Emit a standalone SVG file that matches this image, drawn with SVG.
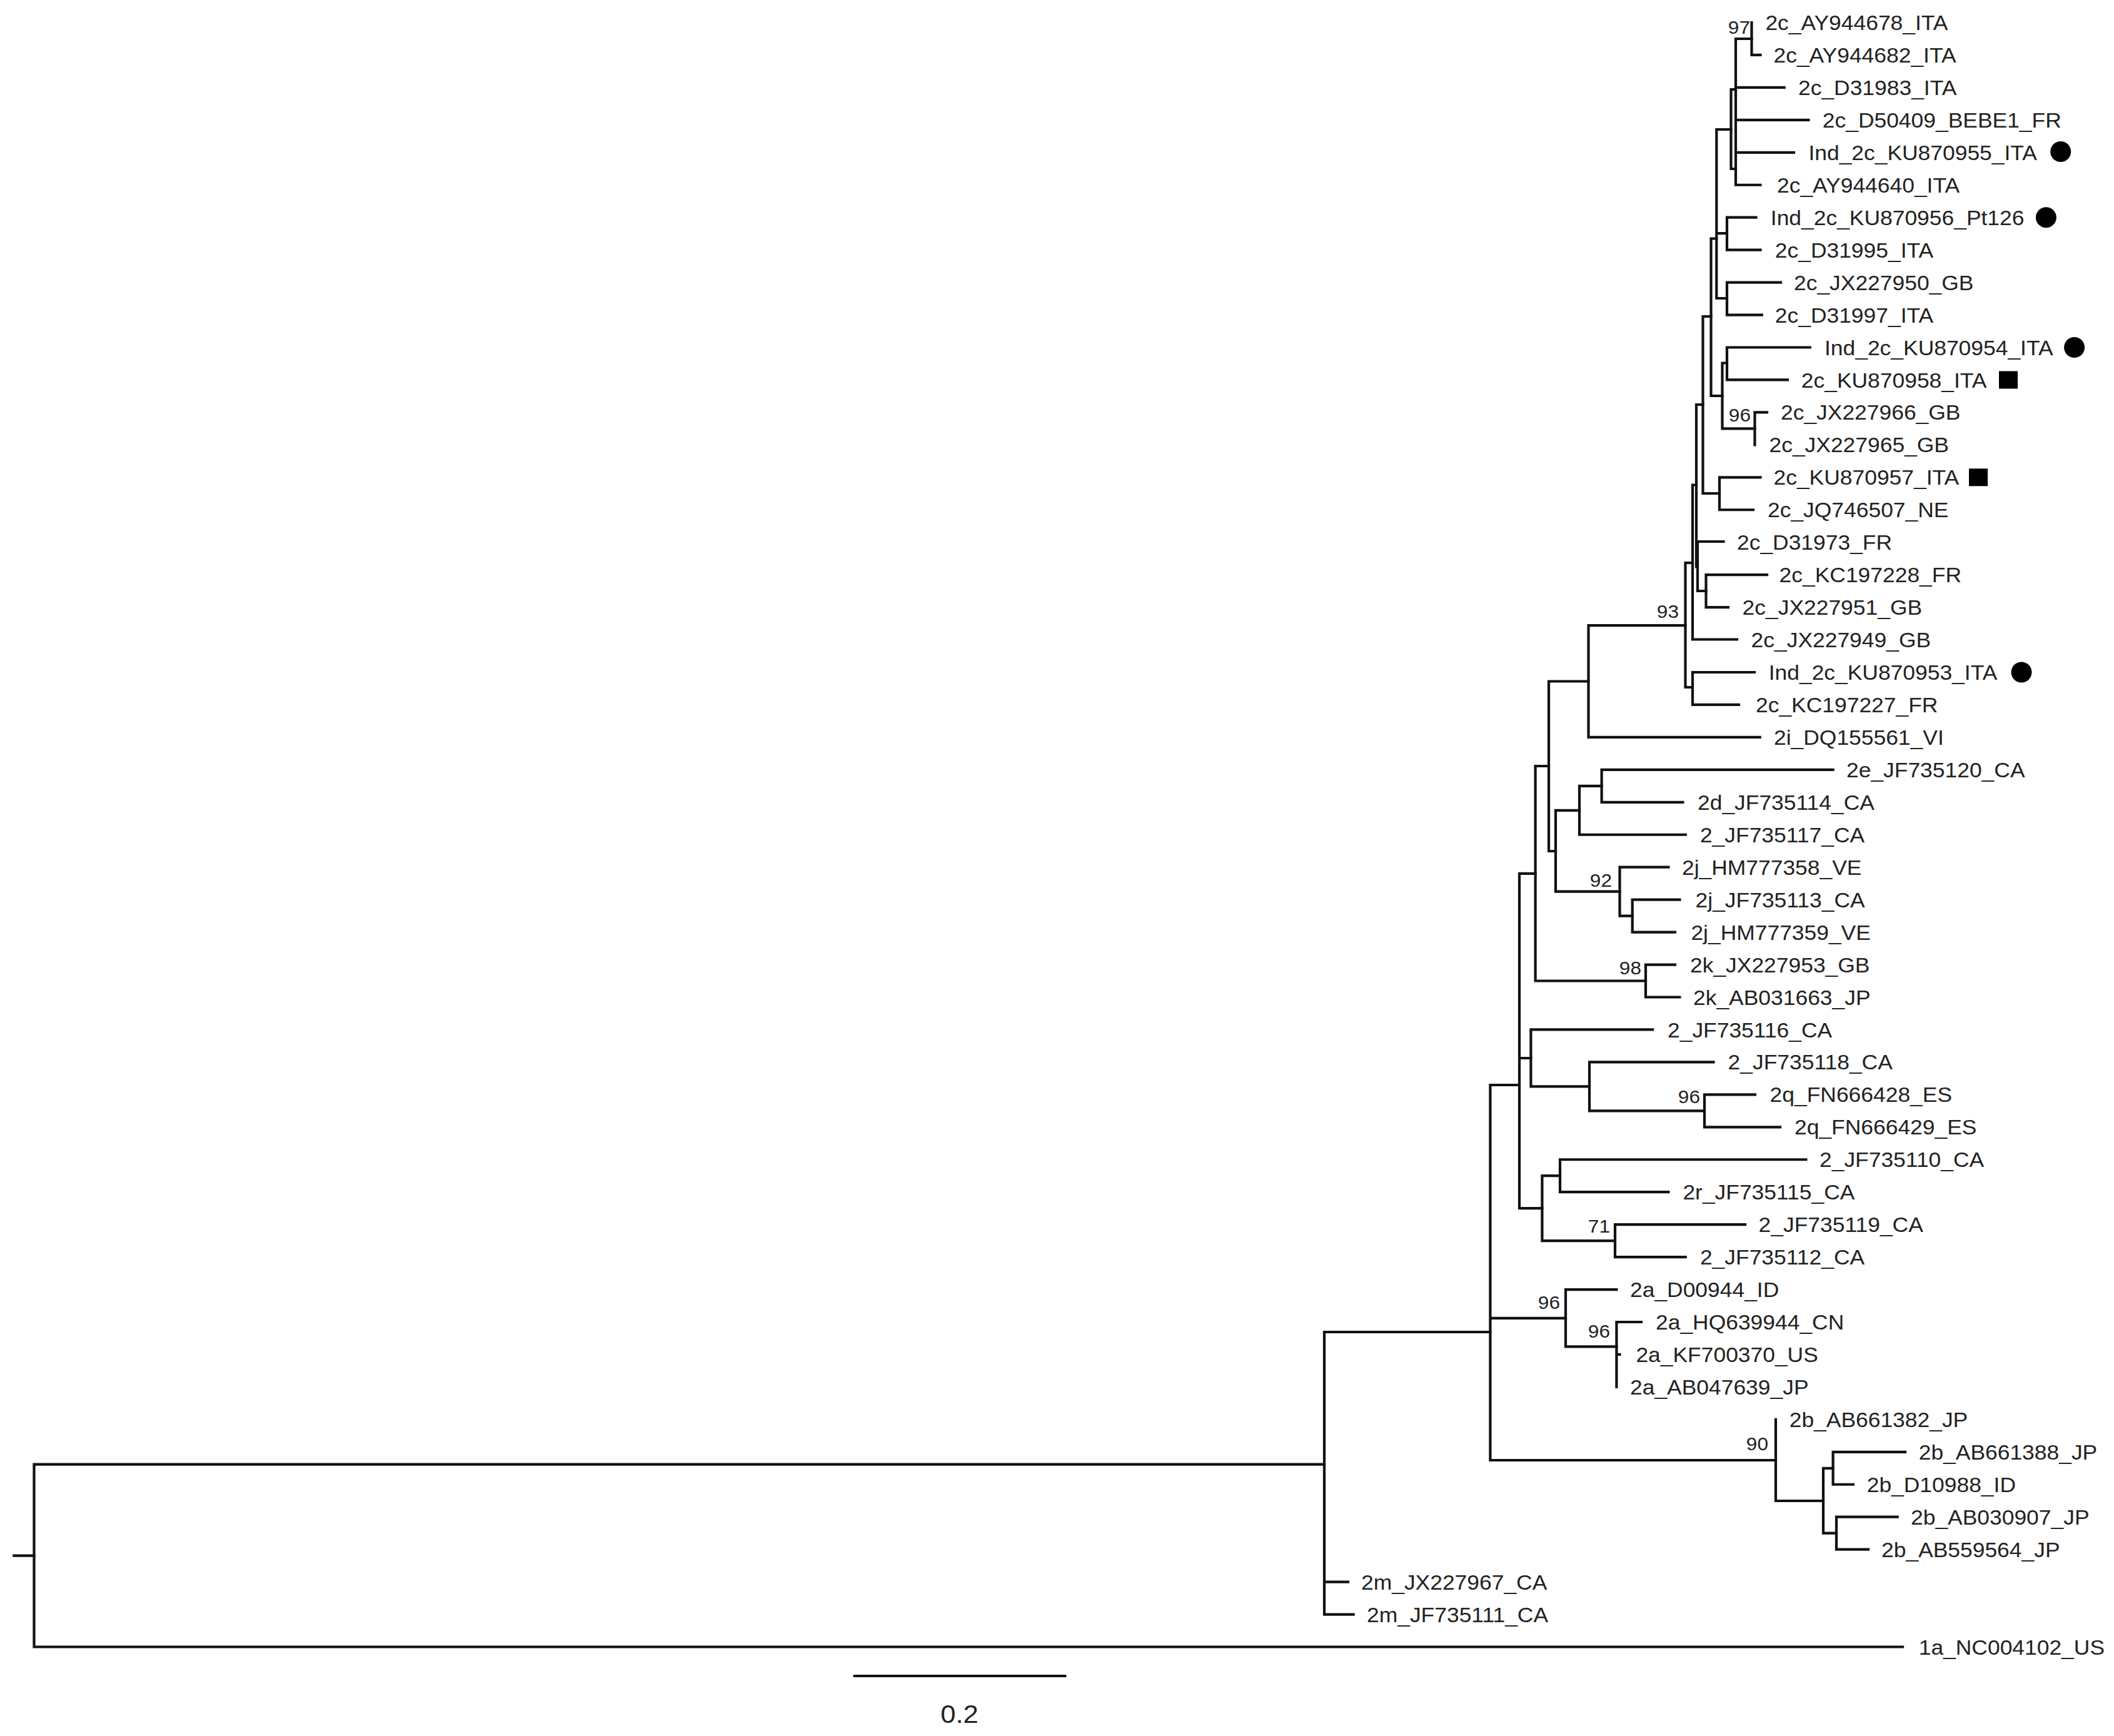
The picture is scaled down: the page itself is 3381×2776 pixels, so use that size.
<svg xmlns="http://www.w3.org/2000/svg" width="3381" height="2776" viewBox="0 0 3381 2776">
<style>
.br{fill:none;stroke:#111;stroke-width:4.2;stroke-linecap:square;stroke-linejoin:miter}
.lb{font-family:"Liberation Sans",Arial,sans-serif;font-size:32.5px;fill:#222}
.bs{font-family:"Liberation Sans",Arial,sans-serif;font-size:29px;fill:#222;text-anchor:end}
.mk{fill:#000}
</style>
<rect width="3381" height="2776" fill="#fff"/>
<g id="connectors" class="br">
<path d="M22.3,2487.6 H54.5"/>
<path d="M2118,2341.7 H54.5 V2633.5 H3043"/>
<path d="M2383.4,2130 H2118 V2581.55 H2164.6 M2118,2529.6 H2156"/>
<path d="M2430,1735 H2383.4 V2335 H2840 M2383.4,2107.8 H2504"/>
<path d="M2840,2269.85 V2400 H2916"/>
<path d="M2931.6,2347.8 H2916 V2451.7 H2937"/>
<path d="M3047,2321.8 H2931.6 V2373.75 H2964"/>
<path d="M3034.7,2425.7 H2937 V2477.65 H2988"/>
<path d="M2585.4,2062.05 H2504 V2153.3 H2585.4"/>
<path d="M2625,2114 H2585.4 V2217.9 M2585.4,2165.95 H2590.5"/>
<path d="M2455.6,1396.8 H2430 V1932.2 H2466.4 M2430,1692 H2448.4"/>
<path d="M2643,1646.45 H2448.4 V1737.4 H2542"/>
<path d="M2740.5,1698.4 H2542 V1776.3 H2726"/>
<path d="M2807,1750.35 H2726 V1802.3 H2847"/>
<path d="M2495,1880.2 H2466.4 V1984.1 H2583"/>
<path d="M2888.4,1854.25 H2495 V1906.2 H2668.4"/>
<path d="M2791,1958.15 H2583 V2010.1 H2695.8"/>
<path d="M2477,1225 H2455.6 V1568.5 H2632"/>
<path d="M2679,1542.55 H2632 V1594.5 H2686.4"/>
<path d="M2540.5,1089.5 H2477 V1361 H2488"/>
<path d="M2526,1295.8 H2488 V1425.7 H2590.5"/>
<path d="M2561.6,1256.8 H2526 V1334.75 H2695.8"/>
<path d="M2931.6,1230.85 H2561.6 V1282.8 H2691.4"/>
<path d="M2668.4,1386.7 H2590.5 V1464.6 H2610.7"/>
<path d="M2686.4,1438.65 H2610.7 V1490.6 H2679"/>
<path d="M2695.5,1000.2 H2540.5 V1178.9 H2814.7"/>
<path d="M2707,900 H2695.5 V1099 H2707"/>
<path d="M2806,1075 H2707 V1126.95 H2781"/>
<path d="M2713,775.5 H2707 V1022.5 H2778"/>
<path d="M2723.5,647 H2713 V906.5 H2715"/>
<path d="M2756.5,866 H2715 V945 H2728.5"/>
<path d="M2826,919.15 H2728.5 V971.1 H2764"/>
<path d="M2736.5,506 H2723.5 V789 H2750"/>
<path d="M2815.5,763.3 H2750 V815.25 H2804"/>
<path d="M2745.3,381.5 H2736.5 V633 H2754.5"/>
<path d="M2762,580.5 H2754.5 V685.4 H2806.5"/>
<path d="M2894.8,555.5 H2762 V607.45 H2858.9"/>
<path d="M2826,659.4 H2806.5 V711.35"/>
<path d="M2768.5,207 H2745.3 V477 H2762 M2745.3,373.2 H2762"/>
<path d="M2808.5,347.7 H2762 V399.65 H2815.5"/>
<path d="M2848,451.6 H2762 V503.55 H2817.8"/>
<path d="M2776,143 H2768.5 V270 H2776"/>
<path d="M2801.5,62 H2776 V295.75 H2815.5 M2776,139.9 H2853.7 M2776,191.85 H2892.4 M2776,243.8 H2869"/>
<path d="M2801.5,36 V87.95 H2815.5"/>
</g>
<g id="support">
<text class="bs" transform="translate(2799,53.5) scale(1.09,1)">97</text>
<text class="bs" transform="translate(2800,674) scale(1.09,1)">96</text>
<text class="bs" transform="translate(2685,988) scale(1.09,1)">93</text>
<text class="bs" transform="translate(2578,1418) scale(1.09,1)">92</text>
<text class="bs" transform="translate(2625,1558) scale(1.09,1)">98</text>
<text class="bs" transform="translate(2719,1764) scale(1.09,1)">96</text>
<text class="bs" transform="translate(2575,1971) scale(1.09,1)">71</text>
<text class="bs" transform="translate(2495,2093) scale(1.09,1)">96</text>
<text class="bs" transform="translate(2575,2139) scale(1.09,1)">96</text>
<text class="bs" transform="translate(2828,2319) scale(1.09,1)">90</text>
</g>
<g id="leaves">
<g id="leaf1"><text class="lb" transform="translate(2823.4,48) scale(1.09,1)">2c_AY944678_ITA</text></g>
<g id="leaf2"><text class="lb" transform="translate(2836.5,100) scale(1.09,1)">2c_AY944682_ITA</text></g>
<g id="leaf3"><text class="lb" transform="translate(2876,151.9) scale(1.09,1)">2c_D31983_ITA</text></g>
<g id="leaf4"><text class="lb" transform="translate(2914.8,203.9) scale(1.09,1)">2c_D50409_BEBE1_FR</text></g>
<g id="leaf5"><text class="lb" transform="translate(2892.4,255.8) scale(1.09,1)">Ind_2c_KU870955_ITA</text><circle class="mk" cx="3295.7" cy="242.5" r="16.5"/></g>
<g id="leaf6"><text class="lb" transform="translate(2842,307.8) scale(1.09,1)">2c_AY944640_ITA</text></g>
<g id="leaf7"><text class="lb" transform="translate(2831.8,359.7) scale(1.09,1)">Ind_2c_KU870956_Pt126</text><circle class="mk" cx="3272.4" cy="347.7" r="16.5"/></g>
<g id="leaf8"><text class="lb" transform="translate(2838.8,411.7) scale(1.09,1)">2c_D31995_ITA</text></g>
<g id="leaf9"><text class="lb" transform="translate(2869,463.6) scale(1.09,1)">2c_JX227950_GB</text></g>
<g id="leaf10"><text class="lb" transform="translate(2838.8,515.6) scale(1.09,1)">2c_D31997_ITA</text></g>
<g id="leaf11"><text class="lb" transform="translate(2918,567.5) scale(1.09,1)">Ind_2c_KU870954_ITA</text><circle class="mk" cx="3317.6" cy="555.5" r="16.5"/></g>
<g id="leaf12"><text class="lb" transform="translate(2880.8,619.5) scale(1.09,1)">2c_KU870958_ITA</text><rect class="mk" x="3197" y="593.5" width="30" height="28"/></g>
<g id="leaf13"><text class="lb" transform="translate(2848,671.4) scale(1.09,1)">2c_JX227966_GB</text></g>
<g id="leaf14"><text class="lb" transform="translate(2829.5,723.4) scale(1.09,1)">2c_JX227965_GB</text></g>
<g id="leaf15"><text class="lb" transform="translate(2836.5,775.3) scale(1.09,1)">2c_KU870957_ITA</text><rect class="mk" x="3149" y="749.3" width="30" height="28"/></g>
<g id="leaf16"><text class="lb" transform="translate(2827,827.3) scale(1.09,1)">2c_JQ746507_NE</text></g>
<g id="leaf17"><text class="lb" transform="translate(2778,879.2) scale(1.09,1)">2c_D31973_FR</text></g>
<g id="leaf18"><text class="lb" transform="translate(2845.6,931.2) scale(1.09,1)">2c_KC197228_FR</text></g>
<g id="leaf19"><text class="lb" transform="translate(2786.6,983.1) scale(1.09,1)">2c_JX227951_GB</text></g>
<g id="leaf20"><text class="lb" transform="translate(2800.6,1035.1) scale(1.09,1)">2c_JX227949_GB</text></g>
<g id="leaf21"><text class="lb" transform="translate(2828.7,1087) scale(1.09,1)">Ind_2c_KU870953_ITA</text><circle class="mk" cx="3233" cy="1075" r="16.5"/></g>
<g id="leaf22"><text class="lb" transform="translate(2808,1139) scale(1.09,1)">2c_KC197227_FR</text></g>
<g id="leaf23"><text class="lb" transform="translate(2837,1190.9) scale(1.09,1)">2i_DQ155561_VI</text></g>
<g id="leaf24"><text class="lb" transform="translate(2953,1242.9) scale(1.09,1)">2e_JF735120_CA</text></g>
<g id="leaf25"><text class="lb" transform="translate(2715,1294.8) scale(1.09,1)">2d_JF735114_CA</text></g>
<g id="leaf26"><text class="lb" transform="translate(2718.9,1346.8) scale(1.09,1)">2_JF735117_CA</text></g>
<g id="leaf27"><text class="lb" transform="translate(2690,1398.7) scale(1.09,1)">2j_HM777358_VE</text></g>
<g id="leaf28"><text class="lb" transform="translate(2711.6,1450.7) scale(1.09,1)">2j_JF735113_CA</text></g>
<g id="leaf29"><text class="lb" transform="translate(2704.4,1502.6) scale(1.09,1)">2j_HM777359_VE</text></g>
<g id="leaf30"><text class="lb" transform="translate(2703,1554.6) scale(1.09,1)">2k_JX227953_GB</text></g>
<g id="leaf31"><text class="lb" transform="translate(2708,1606.5) scale(1.09,1)">2k_AB031663_JP</text></g>
<g id="leaf32"><text class="lb" transform="translate(2667,1658.5) scale(1.09,1)">2_JF735116_CA</text></g>
<g id="leaf33"><text class="lb" transform="translate(2763.6,1710.4) scale(1.09,1)">2_JF735118_CA</text></g>
<g id="leaf34"><text class="lb" transform="translate(2830.6,1762.4) scale(1.09,1)">2q_FN666428_ES</text></g>
<g id="leaf35"><text class="lb" transform="translate(2870,1814.3) scale(1.09,1)">2q_FN666429_ES</text></g>
<g id="leaf36"><text class="lb" transform="translate(2910,1866.3) scale(1.09,1)">2_JF735110_CA</text></g>
<g id="leaf37"><text class="lb" transform="translate(2691.4,1918.2) scale(1.09,1)">2r_JF735115_CA</text></g>
<g id="leaf38"><text class="lb" transform="translate(2812.6,1970.2) scale(1.09,1)">2_JF735119_CA</text></g>
<g id="leaf39"><text class="lb" transform="translate(2718.9,2022.1) scale(1.09,1)">2_JF735112_CA</text></g>
<g id="leaf40"><text class="lb" transform="translate(2607,2074.1) scale(1.09,1)">2a_D00944_ID</text></g>
<g id="leaf41"><text class="lb" transform="translate(2648,2126) scale(1.09,1)">2a_HQ639944_CN</text></g>
<g id="leaf42"><text class="lb" transform="translate(2616.4,2178) scale(1.09,1)">2a_KF700370_US</text></g>
<g id="leaf43"><text class="lb" transform="translate(2607,2229.9) scale(1.09,1)">2a_AB047639_JP</text></g>
<g id="leaf44"><text class="lb" transform="translate(2861.7,2281.9) scale(1.09,1)">2b_AB661382_JP</text></g>
<g id="leaf45"><text class="lb" transform="translate(3068.7,2333.8) scale(1.09,1)">2b_AB661388_JP</text></g>
<g id="leaf46"><text class="lb" transform="translate(2985.7,2385.8) scale(1.09,1)">2b_D10988_ID</text></g>
<g id="leaf47"><text class="lb" transform="translate(3056,2437.7) scale(1.09,1)">2b_AB030907_JP</text></g>
<g id="leaf48"><text class="lb" transform="translate(3009,2489.7) scale(1.09,1)">2b_AB559564_JP</text></g>
<g id="leaf49"><text class="lb" transform="translate(2177,2541.6) scale(1.09,1)">2m_JX227967_CA</text></g>
<g id="leaf50"><text class="lb" transform="translate(2186,2593.6) scale(1.09,1)">2m_JF735111_CA</text></g>
<g id="leaf51"><text class="lb" transform="translate(3068.7,2645.5) scale(1.09,1)">1a_NC004102_US</text></g>
</g>
<g id="scalebar">
<path class="br" d="M1366.7,2680 H1703.3"/>
<text transform="translate(1534.5,2755) scale(1.09,1)" style="font-family:'Liberation Sans',Arial,sans-serif;font-size:40px;fill:#222;text-anchor:middle">0.2</text>
</g>
</svg>
